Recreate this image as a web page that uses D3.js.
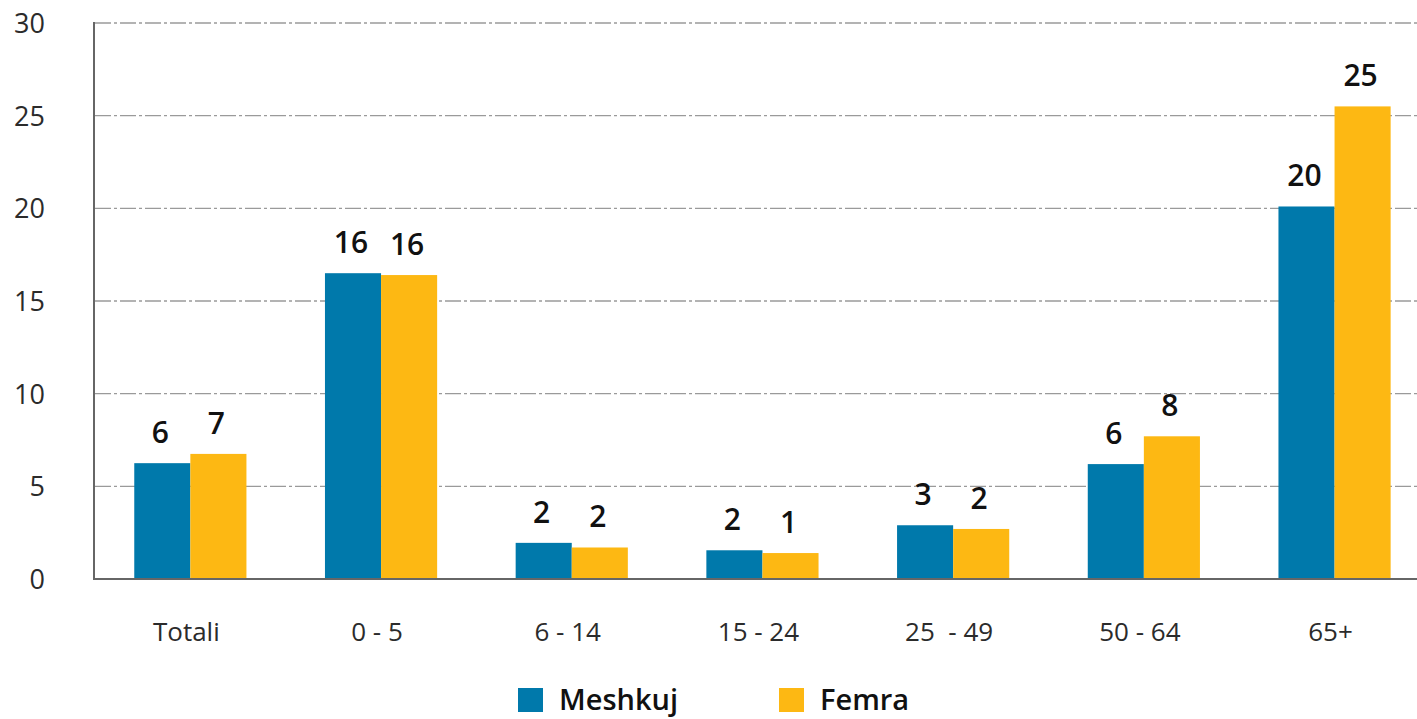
<!DOCTYPE html>
<html>
<head>
    <meta charset="UTF-8">
    <title>Meshkuj / Femra</title>
    <style>
        body { margin: 0; background: #fff; }
        text { font-family: "Open Sans", "Noto Sans", sans-serif; }
    </style>
</head>
<body>
    <svg id="chart"></svg>
    <script src="https://cdnjs.cloudflare.com/ajax/libs/d3/7.8.5/d3.min.js"></script>
    <script>
        const categories = ['Totali', '0 - 5', '6 - 14', '15 - 24', '25  - 49', '50 - 64', '65+'];
        const seriesNames = ['Meshkuj', 'Femra'];
        const meshkuj = [6.25, 16.5, 1.95, 1.55, 2.9, 6.2, 20.1];
        const femra = [6.75, 16.4, 1.7, 1.4, 2.7, 7.7, 25.5];
        const meshkujLabels = ['6', '16', '2', '2', '3', '6', '20'];
        const femraLabels = ['7', '16', '2', '1', '2', '8', '25'];
        const yTicks = [0, 5, 10, 15, 20, 25, 30];

        const width = 1417;
        const height = 719;
        const colors = { Meshkuj: '#0079AB', Femra: '#FDB813' };

        const svg = d3.select('#chart')
            .attr('width', width)
            .attr('height', height);

        const x = d3.scaleBand()
            .domain(categories)
            .range([95, 95 + 7 * 190.7]);

        const xInner = d3.scaleBand()
            .domain(seriesNames)
            .range([0, x.bandwidth()])
            .paddingOuter(0.7);

        const y = d3.scaleLinear()
            .domain([0, 30])
            .range([579, 23]);

        // grid lines
        svg.append('g')
            .selectAll('line')
            .data(yTicks.filter(d => d > 0))
            .enter()
            .append('line')
            .attr('x1', 95)
            .attr('x2', width)
            .attr('y1', d => y(d))
            .attr('y2', d => y(d))
            .style('stroke', '#9a9a9a')
            .style('stroke-width', 1.3)
            .style('stroke-dasharray', '16,3,3,3');

        // y tick labels
        svg.append('g')
            .selectAll('text')
            .data(yTicks)
            .enter()
            .append('text')
            .attr('x', 45)
            .attr('y', d => y(d) + 10)
            .attr('text-anchor', 'end')
            .style('font-size', '27px')
            .style('fill', '#2b2b2b')
            .text(d => d);

        const rows = categories.map((c, i) => ({
            cat: c,
            values: [
                { name: 'Meshkuj', value: meshkuj[i], label: meshkujLabels[i] },
                { name: 'Femra', value: femra[i], label: femraLabels[i] }
            ]
        }));

        const groups = svg.append('g')
            .selectAll('g')
            .data(rows)
            .enter()
            .append('g')
            .attr('transform', d => 'translate(' + x(d.cat) + ',0)');

        groups.selectAll('rect')
            .data(d => d.values)
            .enter()
            .append('rect')
            .attr('x', d => xInner(d.name))
            .attr('width', xInner.bandwidth())
            .attr('y', d => y(d.value))
            .attr('height', d => y(0) - y(d.value))
            .style('fill', d => colors[d.name]);

        groups.selectAll('text.val')
            .data(d => d.values)
            .enter()
            .append('text')
            .attr('class', 'val')
            .attr('x', d => xInner(d.name) + xInner.bandwidth() / 2 - 2)
            .attr('y', d => y(d.value) - 20)
            .attr('text-anchor', 'middle')
            .style('font-size', '30px')
            .style('font-weight', 600)
            .style('fill', '#111')
            .text(d => d.label);

        // axes lines
        svg.append('line')
            .attr('x1', 94).attr('x2', 94)
            .attr('y1', 22).attr('y2', 580)
            .style('stroke', '#666')
            .style('stroke-width', 2);
        svg.append('line')
            .attr('x1', 93).attr('x2', width)
            .attr('y1', 579).attr('y2', 579)
            .style('stroke', '#666')
            .style('stroke-width', 2);

        // x labels
        svg.append('g')
            .selectAll('text')
            .data(categories)
            .enter()
            .append('text')
            .attr('x', d => x(d) + x.bandwidth() / 2 - 4)
            .attr('y', 641)
            .attr('text-anchor', 'middle')
            .style('font-size', '26px')
            .style('fill', '#2b2b2b')
            .style('white-space', 'pre')
            .text(d => d);

        // legend
        const legend = svg.append('g')
            .selectAll('g')
            .data(seriesNames)
            .enter()
            .append('g')
            .attr('transform', (d, i) => 'translate(' + (518 + i * 261) + ',688)');
        legend.append('rect')
            .attr('width', 25)
            .attr('height', 24)
            .style('fill', d => colors[d]);
        legend.append('text')
            .attr('x', 41)
            .attr('y', 22)
            .style('font-size', '29px')
            .style('font-weight', 600)
            .style('fill', '#111')
            .text(d => d);
    </script>
</body>
</html>
